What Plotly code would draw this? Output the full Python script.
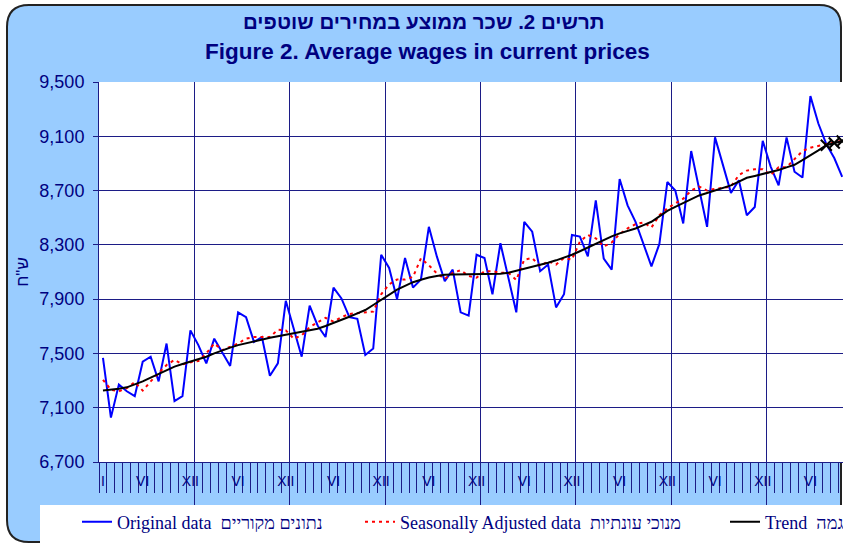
import plotly.graph_objects as go

# ---------------- data (monthly, index 0 = January of first year) ----------------
original = [7468, 7027, 7270, 7221, 7185, 7439, 7476, 7294, 7573, 7148, 7185, 7670,
            7561, 7427, 7609, 7507, 7408, 7803, 7767, 7585, 7621, 7335, 7427, 7888,
            7682, 7476, 7852, 7706, 7621, 7985, 7905, 7767, 7755, 7488, 7536, 8227,
            8130, 7900, 8203, 7985, 8045, 8433, 8215, 8033, 8118, 7803, 7779, 8227,
            8203, 7936, 8312, 8058, 7803, 8470, 8397, 8106, 8155, 7839, 7936, 8373,
            8361, 8215, 8627, 8198, 8118, 8785, 8591, 8470, 8312, 8142, 8307, 8763,
            8700, 8458, 8991, 8713, 8433, 9092, 8890, 8683, 8776, 8518, 8579, 9067,
            8877, 8738, 9092, 8839, 8796, 9396, 9194, 9042, 8940, 8801]

seasonal = [7306, 7233, 7221, 7245, 7289, 7226, 7294, 7355, 7415, 7452, 7420, 7435,
            7444, 7500, 7573, 7524, 7548, 7573, 7609, 7621, 7621, 7621, 7675, 7670,
            7609, 7633, 7694, 7730, 7762, 7735, 7767, 7791, 7798, 7803, 7808, 7936,
            8009, 8045, 8045, 8064, 8200, 8150, 8090, 8050, 8094, 8113, 8070, 8058,
            8106, 8106, 8094, 8094, 8041, 8191, 8203, 8142, 8179, 8155, 8203, 8191,
            8324, 8373, 8348, 8288, 8317, 8380, 8421, 8453, 8465, 8428, 8518, 8570,
            8608, 8640, 8700, 8730, 8700, 8713, 8720, 8730, 8814, 8847, 8857, 8857,
            8814, 8872, 8872, 8928, 8991, 9016, 9029, 9042, 9054, 9067]

trend = [7226, 7232, 7240, 7250, 7270, 7294, 7322, 7350, 7378, 7403, 7422, 7439,
         7458, 7476, 7500, 7524, 7543, 7561, 7576, 7590, 7603, 7616, 7627, 7638,
         7649, 7660, 7671, 7682, 7702, 7723, 7746, 7770, 7795, 7820, 7857, 7895,
         7933, 7970, 7998, 8025, 8043, 8060, 8071, 8080, 8081, 8082, 8082, 8082,
         8082, 8082, 8087, 8094, 8108, 8123, 8136, 8150, 8168, 8186, 8206, 8227,
         8253, 8280, 8310, 8340, 8362, 8385, 8403, 8421, 8445, 8470, 8510, 8550,
         8580, 8608, 8636, 8664, 8682, 8700, 8719, 8738, 8766, 8794, 8808, 8821,
         8836, 8852, 8871, 8890, 8924, 8958, 8996, 9034, 9050, 9065]

roman_months = ["I", "II", "III", "IV", "V", "VI", "VII", "VIII", "IX", "X", "XI", "XII"]
shown_month_labels = ["VI", "XII"]
n_trend_markers = 3

series_names = ["Original data  נתונים מקוריים",
                "Seasonally Adjusted data  מנוכי עונתיות",
                "Trend  מגמה"]

title_he = "תרשים 2. שכר ממוצע במחירים שוטפים"
title_en = "Figure 2. Average wages in current prices"
y_title = 'ש"ח'

# ---------------- derived ----------------
months = list(range(len(original)))
tick_vals = [i for i in months if i == 0 or roman_months[i % 12] in shown_month_labels]
tick_text = [roman_months[i % 12] for i in tick_vals]
month_bounds = [i - 0.5 for i in months] + [months[-1] + 0.5]
year_bounds = [i - 0.5 for i in months if i > 0 and i % 12 == 0]

# ---------------- geometry ----------------
W, H = 843, 543
L, R, T, B = 99, 0, 82, 81
PW, PH = W - L - R, H - T - B
X_RANGE = [-0.5, 93.1]

NAVY = "#000080"
GRID = "#1c1c86"
BG = "#99CCFF"


def px(x):
    return (x - L) / PW


def py(y):
    return (H - B - y) / PH


def rounded_path(x0, y0, x1, y1, r):
    pts = [
        f"M {px(x0 + r)},{py(y0)}",
        f"L {px(x1 - r)},{py(y0)}",
        f"Q {px(x1)},{py(y0)} {px(x1)},{py(y0 + r)}",
        f"L {px(x1)},{py(y1 - r)}",
        f"Q {px(x1)},{py(y1)} {px(x1 - r)},{py(y1)}",
        f"L {px(x0 + r)},{py(y1)}",
        f"Q {px(x0)},{py(y1)} {px(x0)},{py(y1 - r)}",
        f"L {px(x0)},{py(y0 + r)}",
        f"Q {px(x0)},{py(y0)} {px(x0 + r)},{py(y0)}",
        "Z",
    ]
    return " ".join(pts)


fig = go.Figure()

fig.add_trace(go.Scatter(x=months, y=original, mode="lines", name=series_names[0],
                         line=dict(color="#0000FF", width=2), legend="legend"))
fig.add_trace(go.Scatter(x=months, y=seasonal, mode="lines", name=series_names[1],
                         line=dict(color="#FF0000", width=2, dash="3px,4px"), legend="legend2"))
fig.add_trace(go.Scatter(x=months, y=trend, mode="lines", name=series_names[2],
                         line=dict(color="#000000", width=2), legend="legend3"))
fig.add_trace(go.Scatter(x=months[-n_trend_markers:], y=trend[-n_trend_markers:], mode="markers",
                         xaxis="x2", showlegend=False, cliponaxis=False,
                         marker=dict(symbol="x-thin-open", size=11, color="#000000",
                                     line=dict(width=2, color="#000000"))))

shapes = [
    dict(type="path", xref="paper", yref="paper", layer="below",
         path=rounded_path(7, 5, 841, 542, 22),
         fillcolor=BG, line=dict(color="#222222", width=2)),
    dict(type="rect", xref="paper", yref="paper", layer="below",
         x0=0, x1=1, y0=0, y1=1, fillcolor="#FFFFFF", line=dict(width=0)),
    dict(type="rect", xref="paper", yref="paper", layer="above",
         x0=px(40), x1=px(850), y0=py(550), y1=py(505),
         fillcolor="#FFFFFF", line=dict(width=0)),
]

annotations = [
    dict(text=f"<b>{title_he}</b>", xref="paper", yref="paper", x=px(424), y=py(22),
         xanchor="center", yanchor="middle", showarrow=False,
         font=dict(family="Liberation Sans", size=20.5, color=NAVY)),
    dict(text=f"<b>{title_en}</b>", xref="paper", yref="paper", x=px(427), y=py(52),
         xanchor="center", yanchor="middle", showarrow=False,
         font=dict(family="Liberation Sans", size=22.5, color=NAVY)),
]

legend_common = dict(orientation="h", xref="paper", yref="paper", yanchor="middle",
                     xanchor="left", bgcolor="rgba(0,0,0,0)", borderwidth=0,
                     font=dict(family="Liberation Serif", size=18, color=NAVY))

fig.update_layout(
    width=W, height=H,
    margin=dict(l=L, r=R, t=T, b=B, autoexpand=False),
    paper_bgcolor="#FFFFFF",
    plot_bgcolor="#FFFFFF",
    shapes=shapes,
    annotations=annotations,
    xaxis=dict(range=X_RANGE, showgrid=False, zeroline=False,
               showline=True, linecolor=GRID, linewidth=1,
               tickmode="array", tickvals=tick_vals, ticktext=tick_text,
               ticks="outside", ticklen=6, tickcolor="rgba(0,0,0,0)",
               tickfont=dict(family="Liberation Sans", size=14, color=NAVY),
               minor=dict(tickmode="array", tickvals=month_bounds, ticks="outside",
                          ticklen=30, tickcolor=GRID, tickwidth=1, showgrid=False)),
    xaxis2=dict(range=X_RANGE, overlaying="x", anchor="y", side="bottom",
                showgrid=True, gridcolor=GRID, gridwidth=1, zeroline=False,
                tickmode="array", tickvals=year_bounds, showticklabels=False,
                ticks="outside", ticklen=42, tickcolor=GRID, tickwidth=1),
    yaxis=dict(range=[6700, 9500], tickmode="linear", tick0=6700, dtick=400,
               tickformat=",d", showgrid=True, gridcolor=GRID, gridwidth=1,
               zeroline=False, showline=True, linecolor=GRID, linewidth=1,
               ticks="outside", ticklen=5, tickcolor=GRID, ticklabelstandoff=5,
               tickfont=dict(family="Liberation Sans", size=18, color=NAVY),
               title=dict(text=y_title, standoff=6,
                          font=dict(family="Liberation Sans", size=17, color=NAVY))),
    legend=dict(x=px(77), y=py(522), **legend_common),
    legend2=dict(x=px(360), y=py(522), **legend_common),
    legend3=dict(x=px(725), y=py(522), **legend_common),
)

fig.write_html("out.html", config={"displayModeBar": False},
               post_script="document.body.style.margin='0';document.body.style.overflow='hidden';")
